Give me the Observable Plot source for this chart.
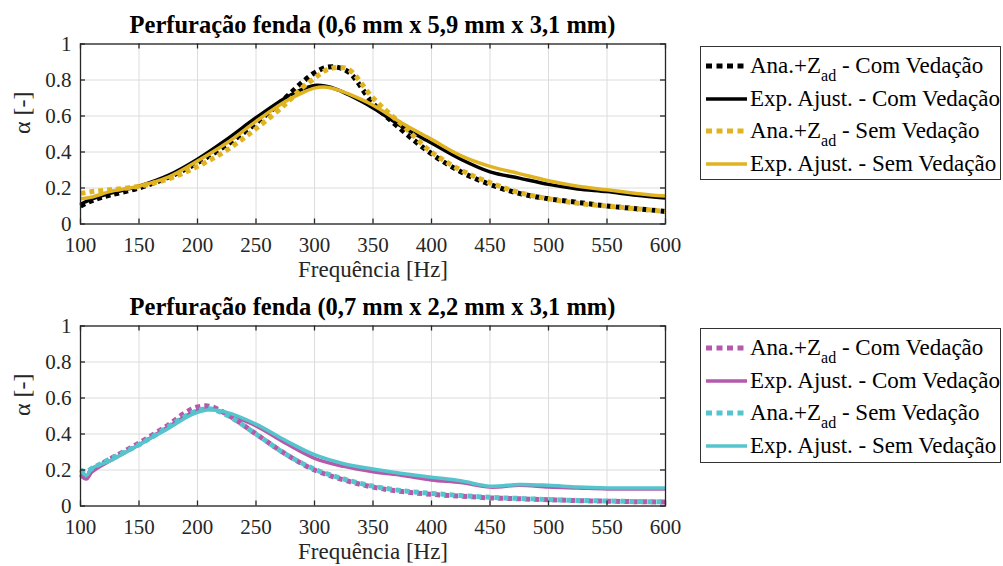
<!DOCTYPE html>
<html><head><meta charset="utf-8">
<script src="https://cdn.jsdelivr.net/npm/d3@7"></script>
<script src="https://cdn.jsdelivr.net/npm/@observablehq/plot@0.6"></script>
<style>
body{margin:0;background:#fff;}
#wrap{position:relative;width:1003px;height:566px;overflow:hidden;font-family:"Liberation Serif","Times New Roman","DejaVu Serif",serif;}
.title{position:absolute;left:80px;width:585px;text-align:center;font-weight:bold;font-size:24.5px;color:#000;line-height:24px;}
.panel{position:absolute;left:0;}
.legend{position:absolute;left:700px;width:301px;border:1px solid #333;background:#fff;font-size:23px;color:#000;box-sizing:border-box;padding-top:3px;}
.row{height:32.5px;display:flex;align-items:center;white-space:nowrap;}
.row svg{margin-left:4px;margin-right:3px;flex:none;}
sub{font-size:16px;vertical-align:-8px;line-height:0;}
</style>
</head><body><div id="wrap"></div>
<script>
// ---------- data ----------
const xTicks = [100,150,200,250,300,350,400,450,500,550,600];
const yTicks = [0,0.2,0.4,0.6,0.8,1];
const titles = ["Perfuração fenda (0,6 mm x 5,9 mm x 3,1 mm)", "Perfuração fenda (0,7 mm x 2,2 mm x 3,1 mm)"];
const xLabel = "Frequência [Hz]";
const yLabel = "α [-]";
const seriesNames = ["Ana.+Z|ad| - Com Vedação","Exp. Ajust. - Com Vedação","Ana.+Z|ad| - Sem Vedação","Exp. Ajust. - Sem Vedação"];

const freqTop   = [100,110,125,150,175,200,225,250,275,290,300,310,320,330,350,375,400,425,450,475,500,525,550,575,600];
const topAnaCom = [0.10,0.13,0.16,0.20,0.26,0.34,0.44,0.56,0.70,0.79,0.84,0.87,0.87,0.84,0.67,0.52,0.39,0.29,0.22,0.17,0.14,0.12,0.10,0.085,0.07];
const topExpCom = [0.11,0.14,0.17,0.21,0.27,0.36,0.47,0.59,0.70,0.75,0.77,0.765,0.745,0.715,0.645,0.54,0.45,0.36,0.29,0.255,0.22,0.195,0.18,0.16,0.145];
const topAnaSem = [0.17,0.18,0.19,0.21,0.25,0.32,0.41,0.53,0.665,0.76,0.81,0.855,0.87,0.855,0.70,0.55,0.40,0.30,0.23,0.175,0.14,0.115,0.10,0.085,0.07];
const topExpSem = [0.14,0.15,0.18,0.21,0.26,0.35,0.45,0.57,0.68,0.73,0.755,0.76,0.745,0.72,0.66,0.56,0.47,0.38,0.32,0.28,0.24,0.21,0.19,0.17,0.155];

const freqBot   = [100,105,110,125,150,175,190,200,210,225,250,275,300,325,350,375,400,425,450,475,500,525,550,575,600];
const botAnaCom = [0.18,0.17,0.20,0.26,0.35,0.45,0.52,0.55,0.555,0.51,0.40,0.29,0.20,0.145,0.105,0.08,0.065,0.055,0.045,0.04,0.035,0.03,0.027,0.024,0.022];
const botExpCom = [0.17,0.15,0.19,0.25,0.34,0.44,0.50,0.53,0.54,0.51,0.445,0.35,0.265,0.22,0.19,0.17,0.145,0.13,0.105,0.115,0.105,0.10,0.095,0.095,0.095];
const botAnaSem = [0.20,0.19,0.21,0.26,0.34,0.44,0.50,0.53,0.54,0.505,0.40,0.29,0.205,0.15,0.11,0.085,0.07,0.058,0.048,0.042,0.036,0.031,0.028,0.025,0.023];
const botExpSem = [0.20,0.17,0.21,0.25,0.34,0.43,0.49,0.52,0.535,0.52,0.455,0.365,0.285,0.235,0.205,0.18,0.16,0.14,0.11,0.12,0.115,0.105,0.10,0.10,0.10];

const colorsTop = ["#000000","#000000","#e0b420","#e0b420"];
const colorsBot = ["#b55aab","#b55aab","#55c4cc","#55c4cc"];
const dotted = [true,false,true,false];

// ---------- drawing ----------
const wrap = document.getElementById("wrap");
const FONT = "'Liberation Serif', 'Times New Roman', 'DejaVu Serif', serif";
const DOT = "5,4";

function panel(freq, vals, colors, top, title) {
  const marks = [
    Plot.ruleX(xTicks, {x: d => d, stroke: "#dcdcdc", strokeWidth: 1}),
    Plot.ruleY(yTicks, {y: d => d, stroke: "#dcdcdc", strokeWidth: 1})
  ];
  vals.forEach((v, k) => {
    const rows = freq.map((f, i) => ({f, a: v[i]}));
    marks.push(Plot.line(rows, {
      x: "f", y: "a", stroke: colors[k], curve: "catmull-rom",
      strokeWidth: dotted[k] ? 5 : 3.5,
      strokeDasharray: dotted[k] ? DOT : null,
      strokeLinecap: "butt", strokeLinejoin: "round"
    }));
  });
  marks.push(
    Plot.frame({stroke: "#262626", strokeWidth: 1.3}),
    Plot.ruleX(xTicks, {x: d => d, y1: 0, y2: 0, insetTop: -5, stroke: "#262626", strokeWidth: 1.3}),
    Plot.ruleX(xTicks, {x: d => d, y1: 1, y2: 1, insetBottom: -5, stroke: "#262626", strokeWidth: 1.3}),
    Plot.ruleY(yTicks, {y: d => d, x1: 100, x2: 100, insetRight: -5, stroke: "#262626", strokeWidth: 1.3}),
    Plot.ruleY(yTicks, {y: d => d, x1: 600, x2: 600, insetLeft: -5, stroke: "#262626", strokeWidth: 1.3}),
    Plot.text([xLabel], {text: d => d, frameAnchor: "bottom", dy: 53, fontSize: 23, fill: "#262626"}),
    Plot.text([yLabel], {text: d => d, frameAnchor: "left", rotate: -90, dx: -58, fontSize: 24, fill: "#262626"})
  );
  const svg = Plot.plot({
    width: 700, height: 285,
    marginLeft: 80, marginRight: 35, marginTop: 43.5, marginBottom: 61.5,
    x: {domain: [100, 600], ticks: xTicks, tickSize: 0, tickPadding: 13, label: null},
    y: {domain: [0, 1], ticks: yTicks, tickSize: 0, tickPadding: 9, tickFormat: d => String(d), label: null},
    style: {fontFamily: FONT, fontSize: "21px", color: "#262626", background: "transparent", overflow: "visible"},
    marks
  });
  const div = document.createElement("div");
  div.className = "panel";
  div.style.top = top + "px";
  div.appendChild(svg);
  wrap.appendChild(div);
  const t = document.createElement("div");
  t.className = "title";
  t.style.top = (top + 13) + "px";
  t.textContent = title;
  wrap.appendChild(t);
}

function legend(colors, top, height) {
  const lg = document.createElement("div");
  lg.className = "legend";
  lg.style.top = top + "px";
  lg.style.height = height + "px";
  seriesNames.forEach((name, k) => {
    const row = document.createElement("div");
    row.className = "row";
    const ns = "http://www.w3.org/2000/svg";
    const s = document.createElementNS(ns, "svg");
    s.setAttribute("width", 42); s.setAttribute("height", 10);
    const ln = document.createElementNS(ns, "line");
    ln.setAttribute("x1", 1); ln.setAttribute("x2", 42); ln.setAttribute("y1", 5); ln.setAttribute("y2", 5);
    ln.setAttribute("stroke", colors[k]);
    ln.setAttribute("stroke-width", dotted[k] ? 5 : 3.5);
    if (dotted[k]) ln.setAttribute("stroke-dasharray", "6,4.5");
    s.appendChild(ln);
    row.appendChild(s);
    const sp = document.createElement("span");
    const parts = name.split("|");
    sp.appendChild(document.createTextNode(parts[0]));
    if (parts.length > 1) {
      const sb = document.createElement("sub"); sb.textContent = parts[1];
      sp.appendChild(sb);
      sp.appendChild(document.createTextNode(parts[2]));
    }
    row.appendChild(sp);
    lg.appendChild(row);
  });
  wrap.appendChild(lg);
}

panel(freqTop, [topAnaCom, topExpCom, topAnaSem, topExpSem], colorsTop, 0, titles[0]);
panel(freqBot, [botAnaCom, botExpCom, botAnaSem, botExpSem], colorsBot, 281.5, titles[1]);
legend(colorsTop, 46, 134);
legend(colorsBot, 328, 135);
</script></body></html>
